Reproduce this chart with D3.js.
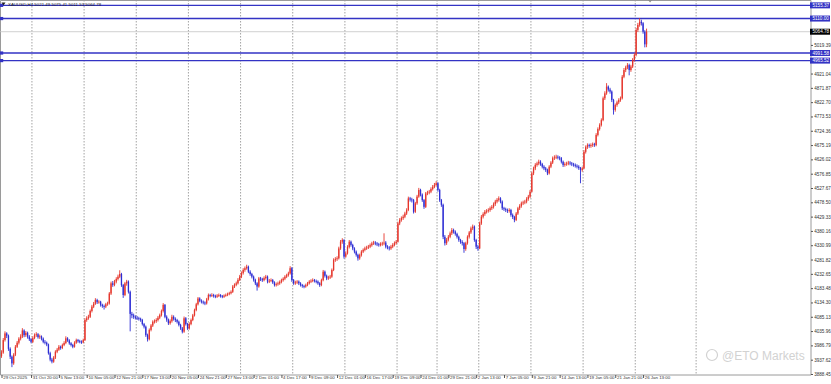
<!DOCTYPE html>
<html>
<head>
<meta charset="utf-8">
<script src="https://cdn.jsdelivr.net/npm/d3@7"></script>
<style>
  html, body { margin: 0; padding: 0; background: #fff; }
  svg { display: block; }
  text { font-family: "Liberation Sans", Arial, sans-serif; }
</style>
</head>
<body>
<div id="chart"></div>
<script>
let width = 831
let height = 384

// -- data (open of each bar = previous close)
const symbol = "XAUUSD,H4"
const firstOpen = 3950
const closes = [
  3962,4005,4028,4020,3975,3948,3925,3955,3982,3996,4010,4017,4038,4022,4030,4017,4008,3999,
  4012,4022,4025,4015,4018,4010,3999,3996,3990,3960,3938,3931,3945,3965,3972,3982,3978,3988,3995,4011,4004,3994,3988,3982,3996,4005,4001,3999,3997,4005,
  4074,4080,4085,4105,4120,4130,4143,4135,4137,4126,4122,4120,4128,4131,4165,4200,4195,4206,4215,4223,4232,4194,4160,4200,4206,4171,4095,4090,4085,4082,
  4080,4078,4074,4060,4051,4022,4008,4040,4055,4068,4070,4074,4082,4091,4105,4126,4085,4075,4063,4070,4085,4078,4074,4068,4057,4045,4034,4080,4060,4045,
  4060,4074,4090,4108,4128,4148,4140,4137,4134,4131,4145,4160,4158,4160,4157,4154,4158,4160,4156,4154,4158,4160,4163,4166,4171,4189,4195,4200,4212,4223,
  4235,4246,4252,4257,4240,4232,4223,4212,4200,4189,4217,4214,4211,4218,4223,4206,4209,4211,4203,4194,4197,4200,4205,4211,4216,4223,4228,4234,4252,4211,
  4200,4203,4206,4200,4194,4191,4189,4194,4200,4206,4209,4211,4208,4206,4200,4194,4211,4240,4226,4217,4220,4223,4246,4280,4283,4286,4320,4343,4349,4292,
  4303,4325,4343,4332,4320,4309,4298,4286,4297,4309,4315,4320,4323,4326,4331,4337,4340,4337,4334,4332,4335,4337,4340,4326,4323,4320,4326,4332,4338,4343,
  4406,4418,4424,4429,4440,4452,4492,4488,4486,4446,4475,4498,4521,4505,4486,4463,4509,4512,4515,4524,4532,4538,4544,
  4521,4486,4470,4360,4338,4350,4360,4372,4383,4378,4370,4360,4349,4342,4338,4318,4338,4360,4375,4389,4395,4349,4326,4320,
  4406,4429,4438,4446,4449,4452,4458,4463,4472,4481,4487,4492,4481,4458,4455,4452,4449,4452,4435,4428,4418,4440,4458,4466,4475,4478,4481,4490,4498,4515,
  4578,4595,4607,4612,4618,4610,4601,4595,4590,4578,4601,4615,4630,4633,4635,4632,4630,4618,4607,4610,4612,4615,4612,4609,4607,4604,4601,4596,4590,4595,
  4652,4668,4675,4672,4675,4678,4675,4710,4730,4744,4761,4836,4853,4876,4866,4859,4830,4796,4813,4822,4830,4836,4910,4933,4942,4950,4933,4945,4968,4985,
  5071,5088,5099,5094,5065,5021.49,5064.78
]
const highs = [
  3970,4012,4035,4032,4024,3980,3952,3960,3988,4002,4015,4025,4046,4042,4036,4034,4022,4012,
  4018,4028,4032,4029,4024,4021,4014,4005,4000,3993,3965,3944,3950,3970,3978,3988,3986,3993,4001,4018,4015,4008,3998,3992,4001,4010,4009,4006,4004,4010,
  4080,4087,4092,4110,4126,4136,4149,4147,4142,4140,4130,4127,4133,4137,4170,4206,4208,4212,4221,4230,4245,4236,4198,4205,4212,4210,4175,4102,4096,4090,
  4088,4085,4082,4078,4064,4055,4027,4045,4060,4073,4076,4080,4088,4096,4110,4132,4129,4090,4079,4076,4092,4090,4083,4078,4072,4061,4050,4086,4084,4064,
  4066,4079,4095,4113,4133,4153,4152,4145,4141,4138,4150,4165,4164,4166,4164,4161,4163,4165,4163,4160,4162,4165,4168,4171,4176,4194,4200,4206,4218,4229,
  4241,4252,4258,4264,4261,4245,4236,4227,4216,4204,4222,4222,4219,4224,4229,4227,4215,4217,4215,4207,4203,4206,4210,4216,4221,4228,4233,4240,4259,4256,
  4215,4209,4211,4210,4204,4198,4195,4199,4205,4211,4214,4217,4215,4213,4210,4204,4216,4246,4244,4230,4226,4229,4251,4286,4290,4293,4326,4349,4355,4352,
  4310,4331,4349,4347,4336,4324,4313,4302,4302,4314,4320,4326,4329,4332,4337,4343,4346,4345,4342,4339,4341,4343,4372,4345,4331,4328,4332,4338,4344,4349,
  4412,4424,4430,4436,4446,4458,4498,4497,4494,4490,4480,4504,4528,4525,4509,4490,4514,4518,4521,4530,4538,4545,4551,
  4548,4525,4490,4474,4366,4356,4366,4378,4390,4388,4382,4374,4364,4353,4348,4342,4343,4365,4380,4395,4402,4399,4353,4332,
  4412,4435,4444,4452,4455,4458,4464,4469,4478,4487,4493,4499,4496,4485,4463,4460,4457,4458,4456,4440,4432,4445,4463,4472,4481,4484,4487,4496,4504,4521,
  4584,4601,4613,4618,4625,4623,4614,4606,4600,4594,4606,4620,4636,4640,4642,4640,4637,4634,4622,4616,4618,4621,4620,4617,4614,4612,4609,4606,4600,4601,
  4658,4674,4681,4680,4681,4684,4683,4716,4736,4750,4767,4842,4860,4888,4880,4872,4863,4834,4818,4828,4836,4842,4916,4940,4948,4957,4955,4951,4974,4991,
  5078,5095,5111,5106,5098,5070,5075.41
]
const lows = [
  3944,3958,4000,4012,3968,3940,3912,3920,3950,3978,3990,4004,4012,4015,4016,4010,4002,3994,
  3995,4008,4016,4010,4009,4004,3994,3990,3984,3955,3932,3925,3927,3940,3960,3968,3972,3974,3984,3991,3999,3989,3983,3977,3979,3992,3996,3994,3992,3994,
  4002,4068,4075,4081,4100,4115,4126,4129,4130,4120,4116,4110,4115,4123,4127,4160,4188,4190,4200,4210,4218,4188,4150,4156,4192,4165,4035,4080,4078,4076,
  4074,4072,4068,4055,4045,4016,4000,4004,4035,4050,4062,4064,4069,4077,4086,4100,4080,4068,4057,4058,4065,4072,4067,4062,4052,4040,4028,4030,4055,4040,
  4041,4056,4070,4086,4104,4124,4135,4131,4128,4125,4127,4141,4152,4153,4151,4149,4150,4153,4151,4149,4150,4154,4156,4159,4162,4167,4184,4190,4196,4208,
  4218,4230,4240,4247,4235,4226,4217,4206,4194,4175,4185,4208,4205,4207,4213,4200,4201,4204,4198,4189,4189,4192,4195,4200,4206,4211,4218,4223,4230,4205,
  4195,4195,4198,4194,4189,4185,4183,4185,4190,4196,4201,4204,4203,4200,4195,4188,4190,4207,4220,4211,4212,4215,4219,4242,4274,4277,4282,4315,4336,4285,
  4288,4299,4320,4326,4314,4303,4292,4278,4281,4292,4304,4310,4315,4318,4321,4326,4332,4331,4328,4326,4327,4329,4331,4320,4317,4313,4315,4321,4327,4333,
  4340,4400,4412,4418,4424,4435,4448,4481,4478,4440,4442,4470,4494,4499,4480,4456,4459,4503,4506,4510,4519,4527,4533,
  4515,4480,4463,4352,4330,4332,4344,4355,4366,4371,4364,4354,4343,4336,4330,4305,4312,4333,4354,4370,4383,4343,4318,4312,
  4318,4401,4423,4432,4440,4443,4446,4452,4457,4466,4475,4481,4475,4452,4449,4445,4442,4443,4429,4421,4410,4414,4435,4452,4460,4469,4472,4475,4484,4493,
  4512,4572,4589,4601,4606,4604,4595,4589,4583,4572,4574,4596,4610,4624,4627,4626,4623,4612,4600,4601,4604,4606,4606,4603,4601,4598,4595,4590,4544,4584,
  4592,4646,4662,4666,4666,4669,4669,4671,4705,4725,4739,4757,4830,4848,4859,4852,4823,4780,4790,4807,4816,4824,4832,4905,4926,4936,4915,4927,4940,4962,
  4980,5064,5082,5086,5058,5011,5011.53
]

// price scale labels on the right, bottom to top
const priceTicks = [3888.45,3937.62,3986.79,4035.96,4085.13,4134.30,4183.48,4232.65,4281.82,4330.99,
  4380.16,4429.33,4478.50,4527.67,4576.85,4626.02,4675.19,4724.36,4773.53,4822.70,
  4871.87,4921.04,4970.22,5019.39,5068.56,5117.73,5166.90]
const timeLabels = ["29 Oct 2025","31 Oct 20:00","5 Nov 13:00","10 Nov 05:00","12 Nov 21:00","17 Nov 13:00",
  "20 Nov 05:00","24 Nov 21:00","27 Nov 13:00","2 Dec 01:00","4 Dec 17:00","9 Dec 09:00","12 Dec 01:00",
  "16 Dec 17:00","19 Dec 09:00","24 Dec 01:00","29 Dec 21:00","2 Jan 13:00","7 Jan 05:00","9 Jan 21:00",
  "14 Jan 13:00","19 Jan 05:00","21 Jan 21:00","26 Jan 13:00"]
// bar index where each week starts (period separators)
const weekStarts = [18,48,78,108,138,168,198,228,251,275,305,335,365,400]
// horizontal lines drawn by hand on the chart
const levels = [5155.37, 5110.00, 4991.58, 4965.52]

let plotRight = 811
let plotBottom = 375
let bull = "#e5352b"
let bear = "#2d2dd4"
let lineBlue = "#3333c4"

let n = closes.length
let last = n - 1
let opens = closes.map((c, i) => i === 0 ? firstOpen : closes[i - 1])

let svg = d3.select("#chart").append("svg")
  .attr("width", width)
  .attr("height", height)

let x = d3.scaleLinear().domain([0, 465]).range([1.5, 810])
let y = d3.scaleLinear().domain([3888.45, 5166.90]).range([374, 2])

// -- watermark (under everything)
let wm = svg.append("g").attr("transform", "translate(706, 355)")
wm.append("circle").attr("cx", 6).attr("cy", 0).attr("r", 5.5)
  .attr("fill", "none").attr("stroke", "#d2d2d2").attr("stroke-width", 1.2)
wm.append("text").attr("x", 16).attr("y", 4.5)
  .attr("font-family", "Noto Sans, sans-serif")
  .attr("font-size", 12).attr("fill", "#d2d2d2")
  .text("@ETO Markets")

// -- week separators
svg.append("g").selectAll("line")
  .data(weekStarts)
  .enter().append("line")
  .attr("x1", d => x(d - 0.5)).attr("x2", d => x(d - 0.5))
  .attr("y1", 0).attr("y2", plotBottom)
  .attr("stroke", "#8c8c8c")
  .attr("stroke-width", 0.8)
  .attr("stroke-dasharray", "1.5,1.5")

// -- frame
svg.append("path")
  .attr("d", `M0.5,${plotBottom} V0.5 H${plotRight} V${plotBottom} Z`)
  .attr("fill", "none")
  .attr("stroke", "#9a9a9a")
  .attr("stroke-width", 1)

// -- bid line
svg.append("line")
  .attr("x1", 0).attr("x2", plotRight)
  .attr("y1", y(closes[last])).attr("y2", y(closes[last]))
  .attr("stroke", "#c4c4c4").attr("stroke-width", 0.8)

// -- hand drawn levels
let lv = svg.append("g")
lv.selectAll("line")
  .data(levels)
  .enter().append("line")
  .attr("x1", 0).attr("x2", plotRight)
  .attr("y1", d => y(d)).attr("y2", d => y(d))
  .attr("stroke", lineBlue).attr("stroke-width", 1.4)
lv.selectAll("rect")
  .data(levels)
  .enter().append("rect")
  .attr("x", 0).attr("y", d => y(d) - 1.6)
  .attr("width", 3.2).attr("height", 3.2)
  .attr("fill", lineBlue)

// -- candles
let candles = svg.append("g").selectAll("g")
  .data(closes.map((c, i) => ({ i, o: opens[i], h: highs[i], l: lows[i], c })))
  .enter().append("g")
candles.append("line")
  .attr("x1", d => x(d.i)).attr("x2", d => x(d.i))
  .attr("y1", d => y(d.h)).attr("y2", d => y(d.l))
  .attr("stroke", d => d.c >= d.o ? bull : bear)
  .attr("stroke-width", 0.9)
candles.append("rect")
  .attr("x", d => x(d.i) - 0.65)
  .attr("width", 1.3)
  .attr("y", d => y(Math.max(d.o, d.c)))
  .attr("height", d => Math.max(0.8, y(Math.min(d.o, d.c)) - y(Math.max(d.o, d.c))))
  .attr("fill", d => d.c >= d.o ? bull : bear)

// -- chart shift marker
let sx = x(last) + 3.5
svg.append("path")
  .attr("d", `M${sx - 2},0 L${sx + 2},0 L${sx},2.5 Z`)
  .attr("fill", "#8a8a8a")

// -- price axis (labels hidden behind the tags are left out)
let tagged = levels.concat([closes[last]])
let shownTicks = priceTicks.filter(v => tagged.every(t => Math.abs(y(v) - y(t)) > 5.5))
let yAxis = d3.axisRight(y)
  .tickValues(shownTicks)
  .tickSize(2)
  .tickPadding(1.2)
  .tickFormat(d3.format(".2f"))
let ya = svg.append("g")
  .attr("transform", `translate(${plotRight}, 0)`)
  .call(yAxis)
ya.select(".domain").remove()
ya.selectAll("line").attr("stroke", "#555")
ya.selectAll("text").attr("font-size", 4.6).attr("fill", "#333")

// -- time axis
let tickBars = [0].concat(d3.range(17, n, 16))
let xAxis = d3.axisBottom(x)
  .tickValues(tickBars)
  .tickSize(3)
  .tickFormat((d, i) => timeLabels[i])
let xa = svg.append("g")
  .attr("transform", `translate(0, ${plotBottom})`)
  .call(xAxis)
xa.select(".domain").remove()
xa.selectAll("line").attr("stroke", "#555")
xa.selectAll("text")
  .attr("text-anchor", "start")
  .attr("x", 1.2)
  .attr("y", 1.2)
  .attr("font-size", 4.4)
  .attr("fill", "#333")

// -- level labels on the axis
let tags = svg.append("g")
levels.forEach(v => {
  let g = tags.append("g").attr("transform", `translate(${plotRight - 1}, ${y(v)})`)
  g.append("rect").attr("x", 0).attr("y", -3).attr("width", 20).attr("height", 6).attr("fill", lineBlue)
  g.append("text").attr("x", 2.5).attr("y", 1.7).attr("font-size", 4.6).attr("fill", "#fff").text(v.toFixed(2))
})
let bid = tags.append("g").attr("transform", `translate(${plotRight - 1}, ${y(closes[last])})`)
bid.append("rect").attr("x", 0).attr("y", -3).attr("width", 20).attr("height", 6).attr("fill", "#000")
bid.append("text").attr("x", 2.5).attr("y", 1.7).attr("font-size", 4.6).attr("fill", "#fff").text(closes[last].toFixed(2))

// -- header
svg.append("path").attr("d", "M1.5,2.5 L5.5,2.5 L3.5,5.5 Z").attr("fill", "#222")
svg.append("text")
  .attr("x", 8).attr("y", 6)
  .attr("font-size", 4.4)
  .attr("fill", "#222")
  .text(`${symbol}  ${opens[last].toFixed(2)} ${highs[last].toFixed(2)} ${lows[last].toFixed(2)} ${closes[last].toFixed(2)}`)
</script>
</body>
</html>
